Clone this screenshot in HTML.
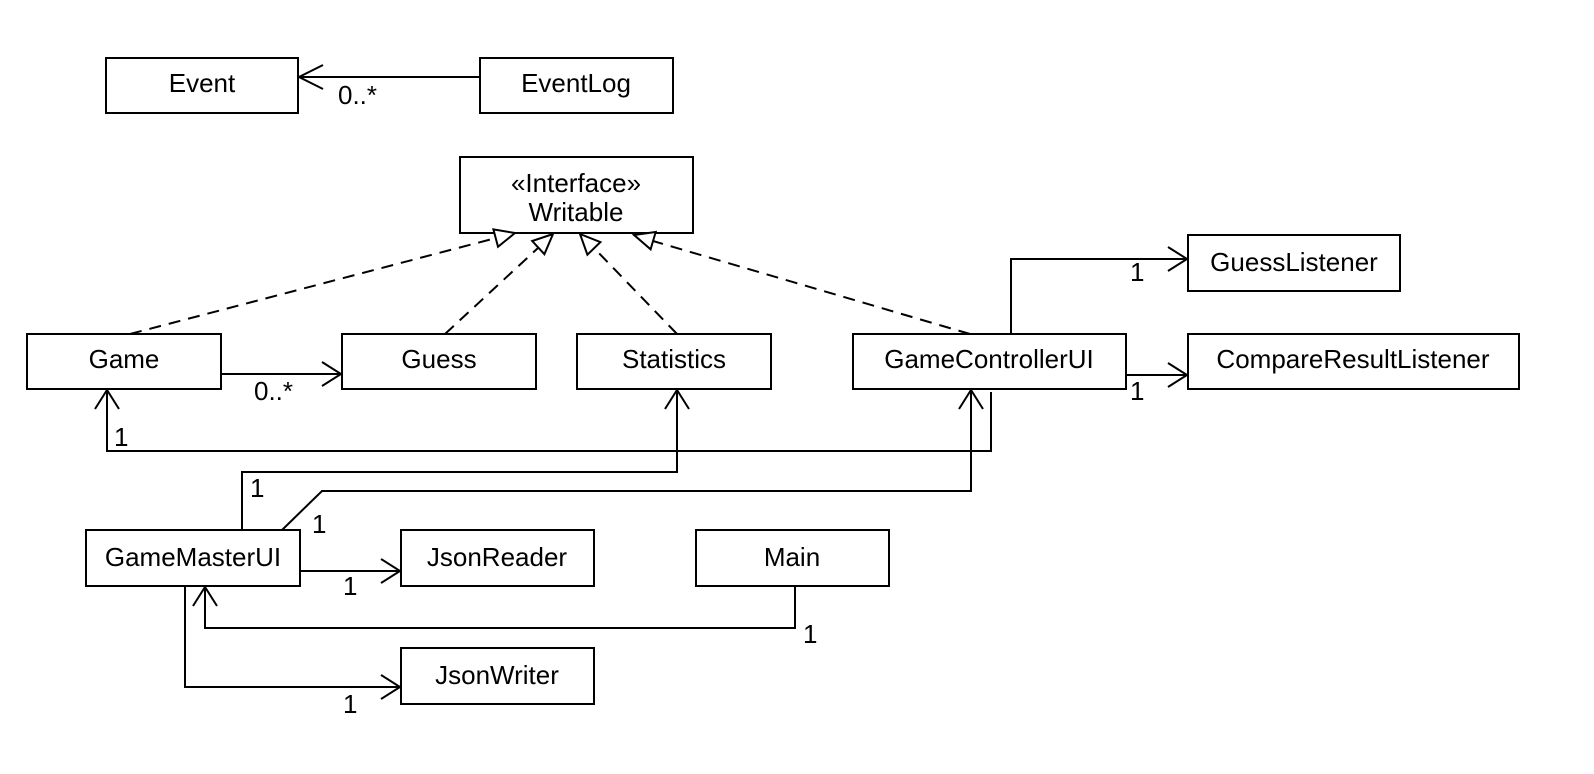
<!DOCTYPE html>
<html><head><meta charset="utf-8"><style>
html,body{margin:0;padding:0;background:#fff;}
svg{display:block;}
text{font-family:"Liberation Sans","DejaVu Sans",sans-serif;font-size:26px;fill:#000;}
</style></head><body>
<svg width="1594" height="774" viewBox="0 0 1594 774" xmlns="http://www.w3.org/2000/svg">
<g fill="#fff" stroke="#000" stroke-width="2">
<rect x="106" y="58" width="192" height="55"/>
<rect x="480" y="58" width="193" height="55"/>
<rect x="460" y="157" width="233" height="76"/>
<rect x="1188" y="235" width="212" height="56"/>
<rect x="27" y="334" width="194" height="55"/>
<rect x="342" y="334" width="194" height="55"/>
<rect x="577" y="334" width="194" height="55"/>
<rect x="853" y="334" width="273" height="55"/>
<rect x="1188" y="334" width="331" height="55"/>
<rect x="86" y="530" width="214" height="56"/>
<rect x="401" y="530" width="193" height="56"/>
<rect x="696" y="530" width="193" height="56"/>
<rect x="401" y="648" width="193" height="56"/>
</g>
<g text-anchor="middle">
<text x="202" y="92">Event</text>
<text x="576" y="92">EventLog</text>
<text x="576" y="192">«Interface»</text>
<text x="576" y="221">Writable</text>
<text x="1294" y="271">GuessListener</text>
<text x="124" y="368">Game</text>
<text x="439" y="368">Guess</text>
<text x="674" y="368">Statistics</text>
<text x="989" y="368">GameControllerUI</text>
<text x="1353" y="368">CompareResultListener</text>
<text x="193" y="566">GameMasterUI</text>
<text x="497" y="566">JsonReader</text>
<text x="792" y="566">Main</text>
<text x="497" y="684">JsonWriter</text>
</g>
<g fill="none" stroke="#000" stroke-width="2">
<path d="M480 77H299M323 65L299 77L323 89"/>
<g stroke-dasharray="12,8">
<path d="M130 334L496 238"/>
<path d="M445 334L538 248"/>
<path d="M677 334L594 248"/>
<path d="M970 334L653 241"/>
</g>
<path d="M221 374H341M322 362L341 374L322 386"/>
<path d="M1011 334V259H1187M1168 247L1187 259L1168 271"/>
<path d="M1127 375H1187M1168 363L1187 375L1168 387"/>
<path d="M991 392V451H107V390M95 409L107 390L119 409"/>
<path d="M242 530V472H677V390M665 409L677 390L689 409"/>
<path d="M282 530L322 491H971V390M959 409L971 390L983 409"/>
<path d="M300 571H400M381 559L400 571L381 583"/>
<path d="M795 586V628H205V587M193 606L205 587L217 606"/>
<path d="M185 586V687H400M381 675L400 687L381 699"/>
</g>
<g fill="#fff" stroke="#000" stroke-width="2">
<polygon points="515,233 498,246.8 493.4,229.4"/>
<polygon points="553,234 544.4,254.2 532.2,241"/>
<polygon points="580,234 600.4,242.1 587.4,254.7"/>
<polygon points="634,235 655.7,232 650.6,249.3"/>
</g>
<g>
<text x="338" y="104">0..*</text>
<text x="254" y="400">0..*</text>
<text x="1130" y="281">1</text>
<text x="1130" y="400">1</text>
<text x="114" y="446">1</text>
<text x="250" y="497">1</text>
<text x="312" y="533">1</text>
<text x="343" y="595">1</text>
<text x="803" y="643">1</text>
<text x="343" y="713">1</text>
</g>
</svg>
</body></html>
